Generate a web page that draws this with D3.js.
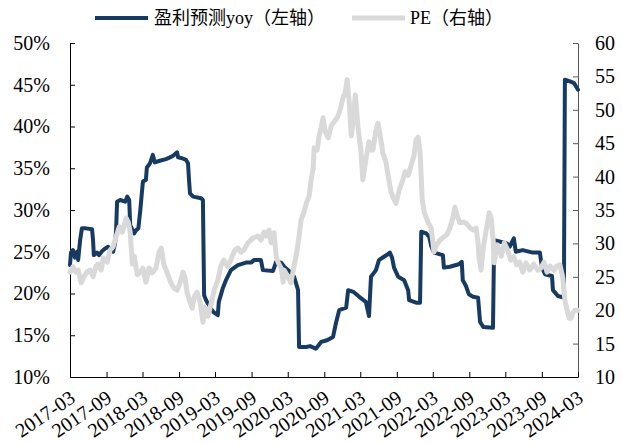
<!DOCTYPE html>
<html>
<head>
<meta charset="utf-8">
<script src="https://cdn.jsdelivr.net/npm/d3@7"></script>
<style>
  body { margin: 0; background: #fff; }
  svg { display: block; }
  text { font-family: "Liberation Serif", "Times New Roman", "Noto Sans CJK SC", serif; fill: #000; }
</style>
</head>
<body>
<svg id="chart" width="622" height="444"></svg>
<script>
// 盈利预测yoy (left axis, %)
const yoyDates = ["2017-03-01","2017-03-06","2017-03-16","2017-03-26","2017-04-06","2017-04-11","2017-04-21","2017-04-30","2017-05-20","2017-06-20","2017-06-25","2017-06-29","2017-07-15","2017-07-25","2017-08-10","2017-08-25","2017-09-09","2017-09-19","2017-10-04","2017-10-14","2017-10-19","2017-10-24","2017-11-09","2017-12-04","2017-12-14","2017-12-24","2017-12-29","2018-01-18","2018-01-28","2018-02-08","2018-02-18","2018-02-27","2018-03-03","2018-03-18","2018-03-23","2018-04-08","2018-04-22","2018-05-02","2018-05-27","2018-06-27","2018-07-17","2018-08-02","2018-08-22","2018-08-27","2018-09-16","2018-10-06","2018-10-16","2018-10-21","2018-10-26","2018-11-11","2018-12-21","2018-12-30","2019-01-05","2019-01-15","2019-01-30","2019-02-20","2019-03-15","2019-03-20","2019-04-10","2019-04-25","2019-05-20","2019-06-24","2019-08-04","2019-08-29","2019-09-13","2019-10-18","2019-10-28","2019-12-18","2020-01-03","2020-01-28","2020-02-12","2020-03-12","2020-04-02","2020-04-22","2020-04-27","2020-06-02","2020-06-21","2020-07-21","2020-08-16","2020-09-15","2020-10-15","2020-10-30","2020-11-15","2020-12-20","2020-12-30","2021-01-25","2021-02-24","2021-03-29","2021-04-14","2021-04-24","2021-05-19","2021-06-03","2021-06-28","2021-07-18","2021-07-28","2021-08-08","2021-08-18","2021-09-08","2021-10-08","2021-10-28","2021-11-02","2021-12-07","2021-12-27","2022-01-02","2022-01-27","2022-02-11","2022-02-21","2022-03-07","2022-04-21","2022-04-26","2022-05-26","2022-07-10","2022-07-25","2022-07-30","2022-08-15","2022-08-30","2022-09-20","2022-10-15","2022-10-25","2022-11-10","2022-12-29","2023-01-04","2023-02-04","2023-03-08","2023-03-23","2023-04-13","2023-04-23","2023-05-28","2023-07-17","2023-08-22","2023-09-02","2023-09-17","2023-10-22","2023-10-27","2023-11-21","2023-12-21","2023-12-26","2024-01-21","2024-02-10","2024-03-01"];
const yoyValues = [23.4,24.9,25.2,24.3,25.0,24.0,26.4,27.8,27.8,27.7,26.4,24.6,24.9,24.6,25.1,25.4,25.6,25.2,25.0,26.0,27.6,31.0,31.2,31.0,31.6,31.2,28.2,27.2,27.6,27.8,30.0,32.4,33.4,33.6,35.1,35.6,36.6,35.7,35.9,36.1,36.3,36.5,36.9,36.3,36.2,36.0,35.6,33.6,32.0,31.6,31.4,31.2,19.8,19.2,18.5,17.8,17.4,19.0,20.7,21.6,22.8,23.4,23.7,23.7,24.0,24.0,22.8,22.7,23.8,23.7,23.2,22.6,22.0,20.4,13.6,13.6,13.7,13.4,14.2,14.4,14.8,16.5,18.0,18.3,20.4,20.2,19.6,19.0,17.3,22.0,22.8,24.0,24.4,24.7,24.9,24.3,23.1,22.0,21.6,20.4,19.2,18.9,18.9,27.4,27.2,26.8,25.7,24.9,24.6,23.1,23.2,23.5,23.8,21.6,20.9,19.9,19.6,19.5,16.6,16.0,15.9,26.4,26.2,26.0,25.6,26.6,25.0,25.2,24.9,24.9,23.1,22.3,22.1,20.4,19.7,19.5,45.6,45.4,45.2,44.4];

// PE (right axis)
const peDates = ["2017-03-01","2017-03-16","2017-03-30","2017-04-11","2017-04-26","2017-05-10","2017-05-25","2017-06-10","2017-06-25","2017-07-10","2017-07-20","2017-08-05","2017-08-15","2017-09-04","2017-09-19","2017-10-04","2017-10-19","2017-11-04","2017-11-19","2017-12-09","2017-12-19","2017-12-29","2018-01-04","2018-01-09","2018-01-18","2018-02-03","2018-02-17","2018-03-03","2018-03-18","2018-04-03","2018-04-18","2018-05-08","2018-05-23","2018-06-03","2018-06-17","2018-07-02","2018-07-22","2018-08-07","2018-08-22","2018-09-07","2018-09-21","2018-10-01","2018-10-11","2018-10-26","2018-11-06","2018-11-16","2018-12-01","2018-12-16","2018-12-30","2019-01-10","2019-01-25","2019-02-10","2019-02-25","2019-03-15","2019-03-30","2019-04-14","2019-05-04","2019-05-19","2019-06-09","2019-06-24","2019-07-09","2019-07-24","2019-08-14","2019-09-08","2019-10-03","2019-10-18","2019-11-03","2019-11-13","2019-11-28","2019-12-08","2019-12-23","2020-01-03","2020-01-13","2020-01-28","2020-02-07","2020-02-12","2020-03-02","2020-03-17","2020-03-27","2020-04-12","2020-04-27","2020-05-07","2020-05-22","2020-06-02","2020-06-17","2020-06-27","2020-07-07","2020-07-12","2020-07-27","2020-08-06","2020-08-16","2020-08-26","2020-09-06","2020-09-21","2020-10-06","2020-10-21","2020-11-05","2020-11-20","2020-12-05","2020-12-15","2020-12-25","2021-01-05","2021-01-15","2021-01-25","2021-02-04","2021-02-19","2021-03-04","2021-03-14","2021-03-29","2021-04-14","2021-04-24","2021-05-04","2021-05-19","2021-05-29","2021-06-09","2021-06-23","2021-07-08","2021-07-23","2021-08-03","2021-08-13","2021-08-28","2021-09-13","2021-09-28","2021-10-13","2021-10-28","2021-11-12","2021-11-27","2021-12-07","2021-12-17","2021-12-27","2022-01-07","2022-01-17","2022-02-06","2022-02-21","2022-03-07","2022-03-21","2022-04-06","2022-04-26","2022-05-11","2022-05-26","2022-06-10","2022-06-20","2022-06-30","2022-07-15","2022-08-05","2022-08-20","2022-09-05","2022-09-20","2022-10-05","2022-10-15","2022-10-20","2022-10-30","2022-11-10","2022-11-25","2022-12-10","2022-12-20","2022-12-30","2023-01-04","2023-01-19","2023-02-09","2023-02-24","2023-03-13","2023-03-28","2023-04-13","2023-04-28","2023-05-13","2023-05-28","2023-06-13","2023-07-02","2023-07-22","2023-08-12","2023-08-27","2023-09-12","2023-09-27","2023-10-12","2023-11-01","2023-11-16","2023-12-01","2023-12-16","2023-12-26","2024-01-06","2024-01-16","2024-01-26","2024-02-05","2024-02-15","2024-03-01"];
const peValues = [25.7,26.5,25.7,26.0,24.1,25.0,25.7,26.0,25.0,26.6,26.9,26.0,27.8,27.2,29.0,29.5,31.0,32.5,31.7,33.8,33.2,31.7,29.0,26.9,28.1,25.3,25.7,26.3,24.2,26.3,25.6,26.3,28.7,29.3,26.8,25.7,24.1,23.3,23.0,24.2,25.7,24.8,22.7,21.2,20.3,22.0,22.7,21.2,18.2,20.5,19.1,21.1,23.0,24.5,26.6,27.5,26.5,27.5,29.0,29.3,28.7,29.0,30.1,30.8,31.1,30.5,31.7,31.1,32.0,30.1,31.6,28.0,27.1,26.3,24.2,26.0,25.0,24.1,25.7,28.1,31.0,33.5,34.7,36.0,37.1,39.5,41.3,44.3,44.0,46.1,47.3,48.8,46.7,45.8,47.6,48.2,48.8,50.0,51.9,52.5,54.5,51.0,46.1,48.5,52.2,47.0,44.0,39.5,42.5,45.2,44.0,44.0,47.0,48.0,46.2,43.5,42.2,39.5,37.7,36.9,36.0,38.0,39.2,40.7,40.2,41.7,43.2,45.5,45.9,43.7,36.5,34.7,33.1,32.3,28.7,29.8,30.5,31.0,31.3,32.3,33.8,35.4,34.3,33.1,33.2,32.9,32.3,32.0,32.3,30.1,27.8,26.0,29.3,32.0,34.6,33.8,30.5,27.1,29.8,28.1,30.1,29.0,27.5,28.0,26.8,27.2,25.7,27.1,26.0,26.9,26.0,26.3,27.2,25.7,26.6,26.0,26.6,26.8,24.8,21.5,20.0,18.8,18.8,19.7,20.0,20.0];

const xTickLabels = ["2017-03","2017-09","2018-03","2018-09","2019-03","2019-09","2020-03","2020-09","2021-03","2021-09","2022-03","2022-09","2023-03","2023-09","2024-03"];
const leftTicks = [10, 15, 20, 25, 30, 35, 40, 45, 50];
const rightTicks = [10, 15, 20, 25, 30, 35, 40, 45, 50, 55, 60];

const seriesNames = ["盈利预测yoy（左轴）", "PE（右轴）"];
const seriesColors = ["#173a63", "#d9d9d9"];

const parseDay = d3.timeParse("%Y-%m-%d");
const parseMonth = d3.timeParse("%Y-%m");

const svg = d3.select("#chart");
const plot = { left: 70, right: 578, top: 43, bottom: 377 };

const x = d3.scaleTime()
  .domain([parseMonth(xTickLabels[0]), parseMonth(xTickLabels[xTickLabels.length - 1])])
  .range([plot.left, plot.right]);
const yL = d3.scaleLinear().domain([10, 50]).range([plot.bottom, plot.top]);
const yR = d3.scaleLinear().domain([10, 60]).range([plot.bottom, plot.top]);

const yoy = yoyDates.map((d, i) => ({ date: parseDay(d), v: yoyValues[i] }));
const pe = peDates.map((d, i) => ({ date: parseDay(d), v: peValues[i] }));

// Axes (ticks point inward)
const axisL = d3.axisLeft(yL).tickValues(leftTicks).tickSizeInner(-5).tickSizeOuter(0)
  .tickPadding(20).tickFormat(d => d + "%");
const gL = svg.append("g").attr("transform", `translate(${plot.left},0)`).call(axisL);

const axisR = d3.axisRight(yR).tickValues(rightTicks).tickSizeInner(-5).tickSizeOuter(0)
  .tickPadding(17).tickFormat(d => d);
const gR = svg.append("g").attr("transform", `translate(${plot.right},0)`).call(axisR);

const axisB = d3.axisBottom(x).tickValues(xTickLabels.map(parseMonth)).tickSizeInner(-5)
  .tickSizeOuter(0).tickFormat(d3.timeFormat("%Y-%m"));
const gB = svg.append("g").attr("transform", `translate(0,${plot.bottom})`).call(axisB);

[gL, gR, gB].forEach(g => {
  g.selectAll("text").style("font-size", "20px").attr("fill", "#000");
});
gL.select(".domain").attr("stroke", "#000");
gL.selectAll(".tick line").attr("stroke", "#000");
gB.select(".domain").attr("stroke", "#000");
gB.selectAll(".tick line").attr("stroke", "#000");
gR.select(".domain").attr("stroke", "#595959");
gR.selectAll(".tick line").attr("stroke", "#595959");

gB.selectAll("text")
  .attr("text-anchor", "end")
  .attr("dy", null)
  .attr("y", 0)
  .attr("transform", "translate(6,24) rotate(-34)");

// Lines: PE drawn over the yoy line
const lineL = d3.line().x(d => x(d.date)).y(d => yL(d.v));
const lineR = d3.line().x(d => x(d.date)).y(d => yR(d.v));

svg.append("path").datum(yoy)
  .attr("fill", "none").attr("stroke", seriesColors[0]).attr("stroke-width", 4)
  .attr("stroke-linejoin", "round").attr("stroke-linecap", "round")
  .attr("d", lineL);

svg.append("path").datum(pe)
  .attr("fill", "none").attr("stroke", seriesColors[1]).attr("stroke-width", 5)
  .attr("stroke-linejoin", "round").attr("stroke-linecap", "round")
  .attr("d", lineR);

// Legend
const legend = svg.append("g");
const legendItems = [
  { x0: 95, x1: 148, tx: 154 },
  { x0: 352, x1: 405, tx: 410 }
];
legendItems.forEach((it, i) => {
  legend.append("line")
    .attr("x1", it.x0).attr("x2", it.x1).attr("y1", 18).attr("y2", 18)
    .attr("stroke", seriesColors[i]).attr("stroke-width", i === 0 ? 4 : 5);
  legend.append("text")
    .attr("x", it.tx).attr("y", 18).attr("dy", "0.35em")
    .style("font-size", "18px")
    .text(seriesNames[i]);
});
</script>
</body>
</html>
